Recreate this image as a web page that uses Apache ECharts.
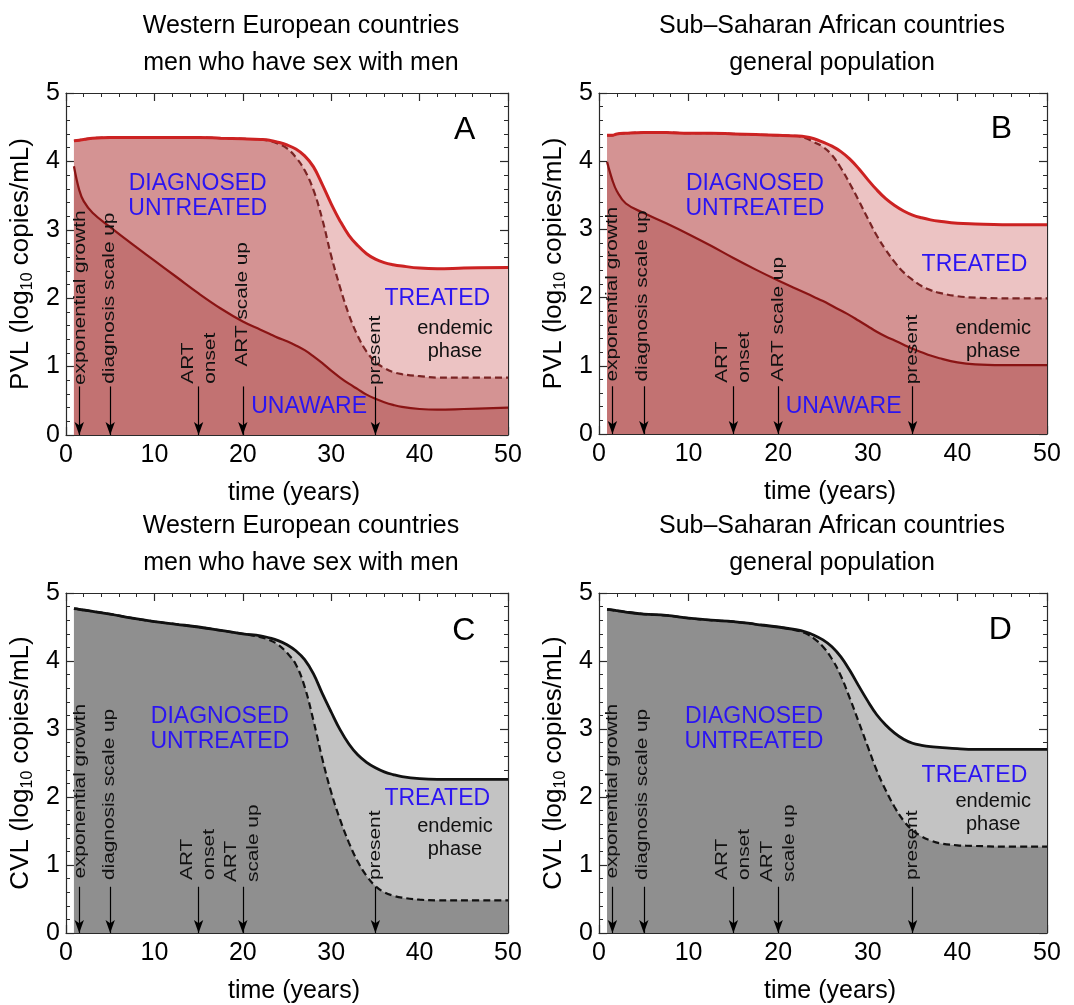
<!DOCTYPE html>
<html><head><meta charset="utf-8">
<script src="https://cdn.jsdelivr.net/npm/echarts@6/dist/echarts.min.js"></script>
<style>html,body{margin:0;padding:0;background:#fff}#c{width:1074px;height:1005px}</style>
</head><body><div id="c"></div>
<script>
// ---------- data ----------
const time = [0.9, 1.5, 2, 3, 5, 7.5, 10, 12.5, 15, 17.5, 20, 22, 23, 24, 25, 26, 27, 28, 29, 30, 31, 32, 33, 34, 35, 36, 37, 38, 40, 42, 45, 50];

// Panel A: Western Europe MSM, PVL
const pvlWestTotal     = [4.30,4.31,4.32,4.34,4.35,4.35,4.35,4.35,4.35,4.34,4.33,4.32,4.31,4.28,4.24,4.18,4.08,3.92,3.66,3.38,3.13,2.92,2.77,2.65,2.57,2.52,2.49,2.47,2.44,2.43,2.44,2.45];
const pvlWestDiagnosed = [4.30,4.31,4.32,4.34,4.35,4.35,4.35,4.35,4.35,4.34,4.33,4.32,4.30,4.26,4.19,4.06,3.87,3.58,3.15,2.62,2.16,1.76,1.45,1.22,1.07,0.98,0.92,0.89,0.86,0.84,0.84,0.84];
const pvlWestUnaware   = [3.93,3.58,3.42,3.25,3.04,2.79,2.55,2.31,2.07,1.85,1.66,1.54,1.48,1.42,1.37,1.31,1.24,1.15,1.05,0.94,0.84,0.75,0.67,0.59,0.53,0.48,0.44,0.41,0.38,0.37,0.38,0.40];

// Panel B: Sub-Saharan Africa general population, PVL
const pvlSsaTotal      = [4.38,4.38,4.40,4.41,4.42,4.42,4.41,4.41,4.40,4.39,4.38,4.37,4.36,4.33,4.28,4.22,4.14,4.03,3.89,3.73,3.58,3.45,3.35,3.27,3.21,3.17,3.14,3.12,3.09,3.08,3.07,3.07];
const pvlSsaDiagnosed  = [4.38,4.38,4.40,4.41,4.42,4.42,4.41,4.41,4.40,4.39,4.38,4.37,4.34,4.28,4.21,4.09,3.90,3.67,3.42,3.16,2.91,2.70,2.52,2.37,2.26,2.17,2.11,2.07,2.02,2.00,1.99,1.99];
const pvlSsaUnaware    = [3.99,3.72,3.56,3.38,3.24,3.09,2.93,2.76,2.58,2.41,2.25,2.13,2.07,2.01,1.95,1.88,1.81,1.74,1.66,1.58,1.50,1.43,1.37,1.31,1.25,1.20,1.15,1.11,1.05,1.02,1.01,1.01];

// Panel C: Western Europe MSM, CVL
const cvlWestTotal     = [4.77,4.76,4.75,4.73,4.69,4.63,4.58,4.54,4.50,4.45,4.40,4.37,4.34,4.30,4.24,4.15,4.02,3.81,3.52,3.25,2.99,2.78,2.62,2.51,2.43,2.37,2.33,2.30,2.27,2.26,2.26,2.26];
const cvlWestDiagnosed = [4.77,4.76,4.75,4.73,4.69,4.63,4.58,4.54,4.50,4.45,4.40,4.35,4.31,4.24,4.12,3.95,3.62,3.12,2.56,2.07,1.67,1.33,1.05,0.84,0.69,0.60,0.55,0.52,0.49,0.48,0.48,0.48];

// Panel D: Sub-Saharan Africa general population, CVL
const cvlSsaTotal      = [4.76,4.75,4.74,4.72,4.69,4.67,4.63,4.60,4.58,4.54,4.50,4.46,4.43,4.38,4.31,4.21,4.06,3.86,3.63,3.41,3.21,3.06,2.94,2.85,2.79,2.76,2.74,2.73,2.71,2.70,2.70,2.70];
const cvlSsaDiagnosed  = [4.76,4.75,4.74,4.72,4.69,4.67,4.63,4.60,4.58,4.54,4.50,4.45,4.41,4.33,4.21,4.03,3.78,3.45,3.10,2.74,2.39,2.10,1.85,1.65,1.51,1.42,1.36,1.32,1.29,1.28,1.27,1.27];

const xTickLabels = ['0','10','20','30','40','50'];
const yTickLabels = ['0','1','2','3','4','5'];
const eventTimes  = [1.5, 5, 15, 20, 35];
const eventLabels = ['exponential growth','diagnosis scale up','ART\nonset','ART scale up','present'];
const eventLabelsCVL = ['exponential growth','diagnosis scale up','ART\nonset','ART\nscale up','present'];

// ---------- layout / style ----------
const FONT = 'Liberation Sans, Arial, Helvetica, sans-serif';
const BLUE = '#2b14f2';
const AXIS = '#2a2a2a';
const pair = arr => time.map((t, i) => [t, arr[i]]);

const panels = [
  {letter:'A', kind:'pvl', grid:{left:66, top:93, width:442, height:342},
   title:'Western European countries\nmen who have sex with men', titleX:296, titleY:3,
   total:pvlWestTotal, diag:pvlWestDiagnosed, unaware:pvlWestUnaware, yName:'PVL',
   ev:[[1.6,0.73],[4.9,0.75],[15.1,0.75],[20,1.0],[35,0.73]], arrowTop:0.71,
   diagPos:[14.9,3.49], treatedPos:[42.0,1.99], endemicPos:[44.0,1.39], unawarePos:[27.5,0.41], letterPos:[45.1,4.46]},
  {letter:'B', kind:'pvl', grid:{left:599, top:93, width:448, height:341},
   title:'Sub\u2013Saharan African countries\ngeneral population', titleX:827, titleY:3,
   total:pvlSsaTotal, diag:pvlSsaDiagnosed, unaware:pvlSsaUnaware, yName:'PVL',
   ev:[[1.5,0.77],[4.9,0.77],[15.0,0.75],[20,0.77],[35,0.73]], arrowTop:0.70,
   diagPos:[17.4,3.49], treatedPos:[41.9,2.48], endemicPos:[44.0,1.38], unawarePos:[27.3,0.40], letterPos:[44.9,4.47]},
  {letter:'C', kind:'cvl', grid:{left:66, top:593, width:442, height:342},
   title:'Western European countries\nmen who have sex with men', titleX:296, titleY:503,
   total:cvlWestTotal, diag:cvlWestDiagnosed, yName:'CVL',
   ev:[[1.6,0.80],[4.9,0.78],[15.0,0.78],[20,0.75],[35,0.78]], arrowTop:0.68,
   diagPos:[17.4,3.00], treatedPos:[42.0,1.97], endemicPos:[44.0,1.39], letterPos:[45.0,4.44]},
  {letter:'D', kind:'cvl', grid:{left:599, top:593, width:448, height:342},
   title:'Sub\u2013Saharan African countries\ngeneral population', titleX:827, titleY:503,
   total:cvlSsaTotal, diag:cvlSsaDiagnosed, yName:'CVL',
   ev:[[1.5,0.80],[4.9,0.78],[15.0,0.78],[20,0.75],[35,0.78]], arrowTop:0.68,
   diagPos:[17.3,3.00], treatedPos:[41.9,2.32], endemicPos:[44.0,1.77], letterPos:[44.8,4.46]}
];

const option = {animation:false, backgroundColor:'#fff', textStyle:{fontFamily:FONT},
  title:[], grid:[], xAxis:[], yAxis:[], series:[]};

const baseAxis = (extra) => Object.assign({
  type:'value', axisLine:{show:true, onZero:false, lineStyle:{color:AXIS, width:1.2}},
  axisTick:{show:true, inside:true, length:8, lineStyle:{color:AXIS, width:1.2}},
  minorTick:{show:true, splitNumber:5, length:4, lineStyle:{color:AXIS, width:1}},
  splitLine:{show:false}, minorSplitLine:{show:false}
}, extra);

const firstSeries = [];
panels.forEach((p, i) => {
  option.title.push({text:p.title, left:p.titleX, top:p.titleY, textAlign:'center',
    textStyle:{fontFamily:FONT, fontSize:25, fontWeight:'normal', color:'#000', lineHeight:37}});
  option.grid.push(Object.assign({containLabel:false}, p.grid));
  const xb = option.xAxis.length;
  option.xAxis.push(baseAxis({gridIndex:i, position:'bottom', min:0, max:50, interval:10,
    name:'time (years)', nameLocation:'middle', nameGap:46,
    nameTextStyle:{fontFamily:FONT, fontSize:25, color:'#000', padding:[0,0,0,14]},
    axisLabel:{show:true, margin:8, fontFamily:FONT, fontSize:25, color:'#000',
      formatter:v => xTickLabels[Math.round(v/10)]}}));
  option.xAxis.push(baseAxis({gridIndex:i, position:'top', min:0, max:50, interval:10, axisLabel:{show:false}}));
  const yb = option.yAxis.length;
  option.yAxis.push(baseAxis({gridIndex:i, position:'left', min:0, max:5, interval:1,
    name:p.yName + ' (log{s|10} copies/mL)', nameLocation:'middle', nameGap:30,
    nameTextStyle:{fontFamily:FONT, fontSize:26, color:'#000', lineHeight:30,
      rich:{s:{fontFamily:FONT, fontSize:16, color:'#000', verticalAlign:'bottom', lineHeight:30}}},
    axisLabel:{show:true, margin:6, fontFamily:FONT, fontSize:25, color:'#000',
      formatter:v => yTickLabels[Math.round(v)]}}));
  option.yAxis.push(baseAxis({gridIndex:i, position:'right', min:0, max:5, interval:1, axisLabel:{show:false}}));

  const ax = {xAxisIndex:xb, yAxisIndex:yb};
  const common = {type:'line', smooth:0.4, showSymbol:false, symbol:'none', silent:true};
  const area = (data, color) => Object.assign({}, common, {data:pair(data),
    lineStyle:{width:0, opacity:0}, areaStyle:{color:color, opacity:1}}, ax);
  const line = (data, color, width, type) => Object.assign({}, common, {data:pair(data),
    lineStyle:{color:color, width:width, type:type}}, ax);
  firstSeries.push(option.series.length);
  const arrows = {silent:true, symbol:['none','arrow'], symbolSize:[7,13], animation:false,
    lineStyle:{color:'#000', width:1.2, type:'solid'}, label:{show:false},
    data:eventTimes.map(t => [{coord:[t, p.arrowTop]}, {coord:[t, 0]}])};
  if (p.kind === 'pvl') {
    option.series.push(area(p.total, '#ecc3c3'));
    option.series.push(area(p.diag, '#d49393'));
    option.series.push(area(p.unaware, '#c27272'));
    option.series.push(line(p.unaware, '#8a1414', 2.2, 'solid'));
    option.series.push(line(p.diag, '#7a2424', 2.2, [7,4]));
    const top = line(p.total, '#cc2222', 3, 'solid');
    top.markLine = arrows;
    option.series.push(top);
  } else {
    option.series.push(area(p.total, '#c3c3c3'));
    option.series.push(area(p.diag, '#8f8f8f'));
    option.series.push(line(p.diag, '#111', 2.2, [7,4]));
    const top = line(p.total, '#111', 2.8, 'solid');
    top.markLine = arrows;
    option.series.push(top);
  }
});

const chart = echarts.init(document.getElementById('c'), null, {renderer:'canvas'});
chart.setOption(option);

const graphics = [];
panels.forEach((p, i) => {
  const px = v => chart.convertToPixel({seriesIndex:firstSeries[i]}, v);
  const labels = p.kind === 'pvl' ? eventLabels : eventLabelsCVL;
  labels.forEach((txt, k) => {
    const pt = px(p.ev[k]);
    graphics.push({type:'text', x:pt[0], y:pt[1], rotation:Math.PI/2, scaleX:1.3, z:100, silent:true,
      style:{text:txt, fontFamily:FONT, fontSize:16, fill:'#111', align:'left', verticalAlign:'middle', lineHeight:22}});
  });
  const put = (pos, txt, size, color, lh) => {
    const pt = px(pos);
    graphics.push({type:'text', x:pt[0], y:pt[1], z:100, silent:true,
      style:{text:txt, fontFamily:FONT, fontSize:size, fill:color, align:'center', verticalAlign:'middle', lineHeight:lh || size}});
  };
  put(p.diagPos, 'DIAGNOSED\nUNTREATED', 23, BLUE, 25);
  put(p.treatedPos, 'TREATED', 23, BLUE);
  put(p.endemicPos, 'endemic\nphase', 20, '#111', 23);
  if (p.unawarePos) put(p.unawarePos, 'UNAWARE', 23, BLUE);
  put(p.letterPos, p.letter, 32, '#000');
});
chart.setOption({graphic:graphics});
</script>
</body></html>
